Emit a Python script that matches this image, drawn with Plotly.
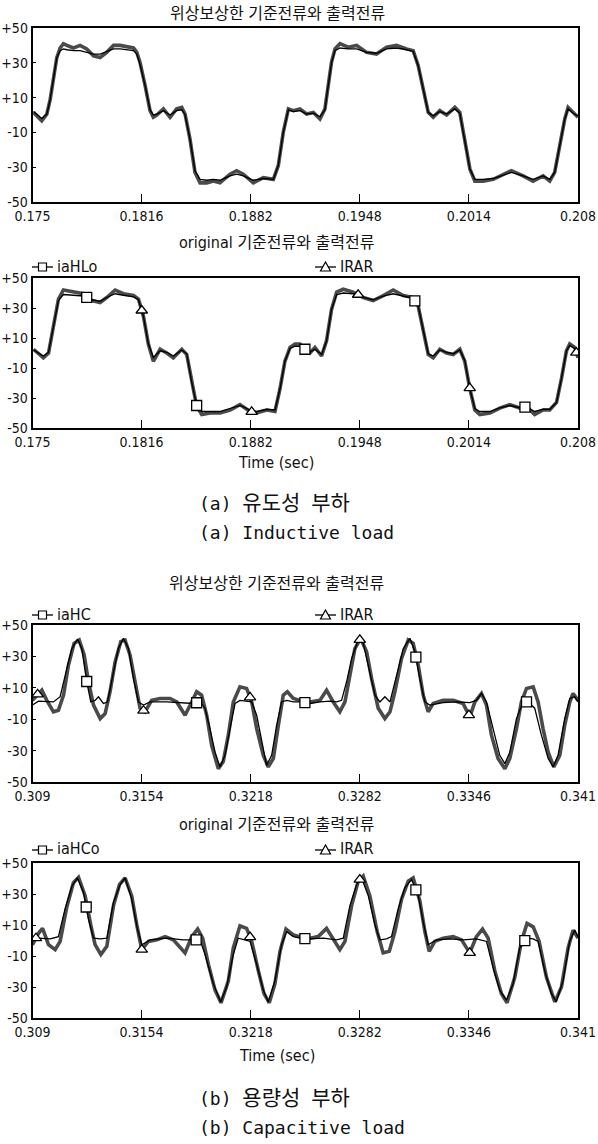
import numpy as np
import plotly.graph_objects as go

W, H = 598, 1144

# ---------------- data (times in ms from the start of each window) ----------------
BASE_A = 0.175   # inductive-load windows
BASE_B = 0.309   # capacitive-load windows

XTICKS_A = [0.175, 0.1816, 0.1882, 0.1948, 0.2014, 0.208]
XTICKS_B = [0.309, 0.3154, 0.3218, 0.3282, 0.3346, 0.341]
YTICKS = [50, 30, 10, -10, -30, -50]
YTICK_TEXT = ["+50", "+30", "+10", "-10", "-30", "-50"]

TITLE_COMP = "위상보상한 기준전류와 출력전류"
TITLE_ORIG = "original 기준전류와 출력전류"

# Panel 1: phase-compensated, inductive load
P1_T = [0.06, 0.56, 0.87, 1.07, 1.27, 1.47, 1.67, 1.87, 2.08, 2.48,
        2.88, 3.28, 3.69, 4.09, 4.49, 4.90, 5.30, 5.70, 6.11, 6.31,
        6.51, 6.81, 7.11, 7.31, 7.52, 7.92, 8.32, 8.72, 9.03, 9.23,
        9.53, 9.83, 10.14, 10.54, 10.94, 11.34, 11.95, 12.35, 12.75, 13.36,
        13.96, 14.57, 14.87, 15.17, 15.48, 15.78,
        16.18, 16.58, 16.99, 17.39, 17.69, 17.89, 18.09, 18.30, 18.60, 19.10,
        19.61, 20.21, 20.81, 21.42, 22.02, 22.63, 23.03, 23.33, 23.64, 23.94,
        24.24, 24.64, 25.05, 25.55, 25.85, 26.15, 26.46, 26.76, 27.26, 27.87,
        28.47, 28.97, 29.68, 30.28, 30.89, 31.29, 31.59, 31.90, 32.20, 32.40,
        32.70, 33.0]
P1_OUT = [1.5, -3.3, 0.6, 9, 21, 33, 38.5, 41, 40, 38.5,
          40, 38, 34, 33, 36, 40, 40, 39, 38.5, 36,
          30, 17, 2.5, -1.3, 0, 3.5, -1.3, 3.5, 4.4, 0.6,
          -14, -33, -39, -39, -38, -39, -34, -32, -34, -39,
          -36, -37, -29, -10, 3.5, 2.5,
          3.5, 0.6, 1.5, -2.3, 3.5, 17, 30.4, 38, 41, 39,
          40, 36, 35, 39, 40, 38, 37, 28.5, 15, 1.5,
          -1.3, 2.5, 0, 4.4, 1.5, -14, -31, -38, -38, -37,
          -34, -32, -35, -38, -35, -38, -33, -17.7, -2.3, 4.4,
          1.5, -1.3]
P1_REF = [2, -2, 0.5, 9, 21, 33, 37, 38, 37.5, 37,
          37, 36, 35, 35, 36.5, 38, 38, 37.5, 37, 35,
          29, 17, 3, 0, 0.5, 2.5, 0, 2.5, 3, 0,
          -14, -32, -37, -37.5, -37, -37.5, -35, -34, -35, -37.5,
          -36.5, -37, -29, -10, 3, 2,
          2.5, 0.5, 1, -1, 3, 17, 30, 37, 38.5, 38,
          38, 36, 35.5, 38, 38.5, 37.5, 36.5, 28.5, 15, 1.5,
          -0.5, 2, 0.5, 3.5, 1, -14, -31, -37, -37, -36.5,
          -34.5, -33, -35, -37, -35, -37, -33, -17.7, -2.3, 3.5,
          1, -0.5]

# Panel 2: original, inductive load
P2_T = [0.06, 0.66, 0.97, 1.27, 1.57, 1.87, 2.48, 3.08, 3.59, 4.09,
        4.49, 5.00, 5.50, 6.11, 6.41, 6.71, 7.01, 7.31, 7.72, 8.12,
        8.52, 9.03, 9.33, 9.63, 9.93, 10.24, 10.74, 11.34, 11.95, 12.55,
        13.16, 13.56, 14.17, 14.67, 14.97, 15.27, 15.58, 15.88,
        16.18, 16.78, 17.09, 17.49, 17.79, 18.09, 18.40, 18.80, 19.40, 20.01,
        20.61, 21.22, 21.82, 22.43, 23.03, 23.33, 23.64, 23.94, 24.24, 24.64,
        25.05, 25.45, 25.85, 26.15, 26.46, 26.76, 27.06, 27.67, 28.27, 28.87,
        29.48, 29.88, 30.38, 30.89, 31.29, 31.70, 32.00, 32.30, 32.50, 32.80,
        33.0]
P2_OUT = [2.5, -3.2, 0, 17.5, 36, 42, 40.6, 39.5, 35, 33.7,
          37, 42, 39.5, 38.3, 36, 24.5, 6, -5.5, 2.5, 0,
          -3.2, 2.5, -1, -19.4, -35.6, -41, -40, -40, -38, -34.4,
          -39, -40, -38, -39, -24, -5.5, 3.7, 6,
          6, 0, 3.7, -2, 8.3, 29, 40.6, 42.5, 40.6, 37,
          35, 38.3, 42, 38.3, 37, 31.4, 15.2, -1, -3.2, 2.5,
          0, -1, 2.5, -5.5, -24, -38, -41, -40, -36.7, -34.4,
          -36.7, -35.6, -41, -38, -38, -33, -17, 1.4, 6, 3.7,
          -3.2]
P2_REF = [2, -2, 0.5, 17, 35, 39, 38.5, 38, 35.5, 34.5,
          37, 39.5, 38.5, 37.5, 35.5, 24.5, 6, -3, 1.5, 0.5,
          -2, 2, -0.5, -19.4, -35, -39, -39, -39, -37, -35,
          -38, -39, -37.5, -38, -24, -5.5, 3, 4.5,
          4.5, 0.5, 2.5, -1, 8, 29, 39, 40, 39.5, 37,
          35.5, 38, 39.5, 38, 36.5, 31.4, 15.2, -0.5, -2, 2,
          0.5, -0.5, 2, -5, -24, -37, -39, -39, -36.5, -35,
          -36.5, -36, -39, -37.5, -37.5, -33, -17, 1.4, 5, 3,
          -2]
P2_SQ_T = [3.28, 9.93, 16.48, 23.13, 29.79]
P2_TRI_T = [6.61, 13.26, 19.70, 26.45, 32.9]

# Panel 3: phase-compensated, capacitive load
P3_A_T = [0, 0.35, 1.23, 1.62, 2.01, 2.31, 2.64, 2.89, 3.18, 3.42,
          3.67, 3.87, 4.16, 4.40, 4.75, 5.04, 5.33, 5.63, 5.92, 6.21,
          6.51, 6.90, 7.87, 8.85, 9.44, 9.83, 10.12, 10.41, 10.71, 11.0,
          11.29, 11.59, 11.88, 12.17, 12.56, 12.86, 13.15, 13.44, 13.73, 14.03,
          14.32, 14.61, 14.91, 15.30,
          15.69, 16.28, 16.86, 17.45, 17.84, 18.13, 18.43, 18.72, 19.11, 19.40,
          19.70, 20.09, 20.38, 20.67, 20.97, 21.36, 21.75, 22.14, 22.43, 22.72,
          23.02, 23.31, 24.09, 24.87, 25.65, 26.04, 26.34, 26.63, 27.02, 27.41,
          27.71, 28.0, 28.39, 28.78, 29.07, 29.46, 29.85, 30.25, 30.54, 30.83,
          31.22, 31.52, 31.81, 32.0]
P3_A = [-1, 1.5, 1, 4.3, 22, 35, 41, 35, 14, 1,
        2, 4.3, 0, 1, 20, 35, 41.5, 35, 16, 1,
        -1, 1, 1, 0.6, 0, 1, -3, -16, -31, -40.4,
        -33, -16, 0, 2, 1.5, 1, -7.5, -24.5, -39.4, -33,
        -14, 1, 2, 1,
        1, 0, 1, 1.5, 1, 2, 14, 28.7, 40.4, 38.3,
        24.5, 5.3, 1, 4.3, 1, 18, 35, 41.5, 33, 16,
        1, -1, 0.6, 1, 0.6, 2, 6.4, 1, -16, -33,
        -38.3, -31, -9.6, 1, 1, -3, -20, -35, -40.4, -33,
        -9.6, 3.2, 4.3, 1]
P3_B_T = [0, 0.35, 0.55, 0.84, 1.23, 1.52, 1.82, 2.11, 2.44, 2.74,
          3.03, 3.28, 3.58, 3.97, 4.26, 4.55, 4.85, 5.18, 5.43, 5.72,
          6.02, 6.31, 6.60, 6.99, 7.48, 8.07, 8.46, 8.95, 9.34, 9.63,
          9.92, 10.22, 10.51, 10.90, 11.19, 11.49, 11.78, 12.17, 12.56, 12.86,
          13.15, 13.54, 13.83, 14.13, 14.42, 14.71, 14.95, 15.30,
          15.69, 16.28, 16.86, 17.25, 17.64, 18.03, 18.33, 18.62, 18.91, 19.25,
          19.60, 19.89, 20.28, 20.67, 20.97, 21.26, 21.65, 22.04, 22.33, 22.63,
          22.92, 23.21, 23.50, 24.09, 24.68, 25.26, 25.65, 25.95, 26.34, 26.63,
          26.92, 27.31, 27.71, 28.0, 28.39, 28.68, 28.98, 29.37, 29.66, 29.95,
          30.25, 30.58, 30.93, 31.22, 31.52, 31.71, 32.0]
P3_B = [2, 6.4, 8.5, 2, -5.3, -4.3, 5.3, 24.5, 38.3, 40.4,
        31, 14, -1, -9.6, -6.4, 7.5, 26.6, 39.4, 40.4, 31,
        14, -3, -5.3, 2, 3.2, 3.2, 1, -7.5, 1, 7.5,
        5.3, -7.5, -26.6, -41.5, -37, -20, 1, 10.6, 9.6, 1,
        -16, -33, -40.4, -35, -14, 5.3, 7.5, 3.2,
        2, 1, 2, 8.5, 1, -5.3, 1, 18, 35, 41.5,
        33, 16, -3, -9.6, -5.3, 7.5, 28.7, 40.4, 38.3, 24.5,
        5.3, -5.3, 0, 2, 2, 0, -8.5, 1, 6.4, -1,
        -20, -35, -41.5, -35, -16, 1, 9.6, 10.6, 1, -16,
        -31, -40.4, -33, -14, 1, 6.4, 2]
P3_SQ_T = [3.18, 9.63, 15.98, 22.49, 28.98]
P3_TRI_T = [0.3, 6.51, 12.76, 19.2, 25.6]

# Panel 4: original, capacitive load
P4_A_T = [0, 0.35, 1.04, 1.52, 1.91, 2.31, 2.64, 2.99, 3.28, 3.58,
          3.97, 4.36, 4.75, 5.14, 5.43, 5.82, 6.15, 6.41, 6.90, 7.87,
          8.85, 9.44, 9.83, 10.12, 10.61, 11.04, 11.39, 11.78, 12.07, 12.46,
          12.76, 13.15, 13.54, 13.83, 14.22, 14.61, 14.91, 15.30,
          15.69, 16.28, 17.06, 17.84, 18.23, 18.62, 19.01, 19.30, 19.70, 20.09,
          20.38, 20.77, 21.06, 21.45, 21.84, 22.24, 22.63, 22.92, 23.21, 23.70,
          24.48, 25.26, 26.04, 26.63, 27.02, 27.41, 27.80, 28.19, 28.58, 28.98,
          29.37, 29.66, 30.05, 30.44, 30.73, 31.12, 31.51, 31.81, 32.0]
P4_A = [0.4, 1.5, 1, 2.5, 20.4, 35, 40.4, 31, 14, 1.5,
        1, 1.5, 24.6, 36, 40.4, 26.7, 7.8, -2.7, 0.4, 1.5,
        0.4, 0.4, 0.4, -9, -28, -39.6, -30, -9, 1.5, 0.4,
        -0.6, -15.4, -32, -39.6, -26, -2.7, 5.7, 2.5,
        1.5, 1, 1.5, 0.4, 1.5, 22.5, 36, 40.4, 28.8, 9.9,
        0.4, 1, 2.5, 20.4, 34, 39.4, 28.8, 12, -2.7, 0.4,
        1, 0.4, 1, -0.6, -17.5, -32, -38.5, -28, -4.8, 1.5,
        1, -0.6, -19.6, -34.3, -39.6, -26, -0.6, 6.7, 2.5]
P4_B_T = [0, 0.35, 0.59, 0.94, 1.33, 1.62, 2.01, 2.40, 2.70, 3.09,
          3.42, 3.67, 4.01, 4.36, 4.75, 5.10, 5.43, 5.82, 6.12, 6.41,
          6.80, 7.29, 7.78, 8.26, 8.95, 9.34, 9.69, 9.98, 10.32, 10.71,
          11.06, 11.49, 11.78, 12.17, 12.56, 12.86, 13.25, 13.58, 13.89, 14.22,
          14.52, 14.87, 15.30,
          15.69, 16.28, 16.76, 17.25, 17.64, 18.03, 18.33, 18.72, 19.11, 19.40,
          19.79, 20.22, 20.57, 20.93, 21.26, 21.65, 22.04, 22.33, 22.72, 23.02,
          23.27, 23.60, 24.09, 24.68, 25.17, 25.65, 26.04, 26.40, 26.73, 27.12,
          27.51, 27.84, 28.29, 28.68, 29.01, 29.37, 29.72, 30.15, 30.64, 31.03,
          31.42, 31.71, 32.0]
P4_B = [-2.7, 4.6, 7.8, -2.7, -5.9, -0.6, 21.5, 37.3, 40.8, 28.8,
        9.9, -2.7, -9, -3.8, 22.5, 36, 40.4, 28.8, 9.9, -5.9,
        -0.6, 0.4, 2.5, 0.4, -8, 2.5, 7.4, 1.5, -15.4, -32,
        -40.2, -26, -4.8, 9.5, 7.8, -0.6, -19.6, -34.3, -40.2, -28,
        -7, 7.4, 3.6,
        2.5, 1.5, 2.5, 7.8, 0.4, -5.9, -0.6, 22.5, 38.3, 41.5,
        28.8, 5.7, -8, -7, 5.7, 26.7, 38.3, 40.4, 25.7, 5.7,
        -7, -0.6, 1.5, 2.5, 0.4, -8, 2.5, 7.4, 1.5, -19.6,
        -34.3, -40.2, -23.8, -0.6, 11, 8.8, -0.6, -23.8, -39.6, -30,
        -4.8, 6.7, 1.5]
P4_SQ_T = [3.15, 9.6, 15.98, 22.49, 28.88]
P4_TRI_T = [0.2, 6.41, 12.76, 19.2, 25.65]

LEG_P2 = ("iaHLo", "IRAR")
LEG_P3 = ("iaHC", "IRAR")
LEG_P4 = ("iaHCo", "IRAR")

# ---------------- layout helpers ----------------
def px(x):
    return x / W

def py(y):
    return 1 - y / H

X_DOM = [px(32.5), px(578)]
PANELS = [(28, 202), (278, 428), (625, 782), (863, 1018)]

NARROW = "Liberation Sans Narrow, DejaVu Sans Condensed, Roboto Condensed, Liberation Sans, sans-serif"
TICK_FONT = dict(family=NARROW, size=14, color="#111")
TITLE_FONT = dict(family="Liberation Sans Narrow, DejaVu Sans Condensed, Noto Sans CJK KR, sans-serif",
                  size=16, color="#111")
CAP_FONT = dict(family="DejaVu Sans Mono, Noto Sans CJK KR, monospace", size=18, color="#111")

BAND = dict(color="#4a4a4a", width=3.6)
THIN = dict(color="#000000", width=1.3)

fig = go.Figure()


def to_sec(base, ms_list):
    return [base + m / 1000.0 for m in ms_list]


def add_line(k, base, t, v, style):
    fig.add_trace(go.Scatter(x=to_sec(base, t), y=v, mode="lines", line=style,
                             xaxis=f"x{k}", yaxis=f"y{k}", showlegend=False,
                             hoverinfo="skip"))


def add_markers(k, base, t, v, mt, symbol):
    my = np.interp(mt, t, v)
    fig.add_trace(go.Scatter(x=to_sec(base, mt), y=my, mode="markers",
                             marker=dict(symbol=symbol, size=10, color="white",
                                         line=dict(color="black", width=1.3)),
                             xaxis=f"x{k}", yaxis=f"y{k}", showlegend=False,
                             hoverinfo="skip"))


# panel 1
add_line(1, BASE_A, P1_T, P1_OUT, BAND)
add_line(1, BASE_A, P1_T, P1_REF, THIN)
# panel 2
add_line(2, BASE_A, P2_T, P2_OUT, BAND)
add_line(2, BASE_A, P2_T, P2_REF, THIN)
add_markers(2, BASE_A, P2_T, P2_REF, P2_SQ_T, "square")
add_markers(2, BASE_A, P2_T, P2_OUT, P2_TRI_T, "triangle-up")
# panel 3
add_line(3, BASE_B, P3_B_T, P3_B, BAND)
add_line(3, BASE_B, P3_A_T, P3_A, THIN)
add_markers(3, BASE_B, P3_A_T, P3_A, P3_SQ_T, "square")
add_markers(3, BASE_B, P3_B_T, P3_B, P3_TRI_T, "triangle-up")
# panel 4
add_line(4, BASE_B, P4_B_T, P4_B, BAND)
add_line(4, BASE_B, P4_A_T, P4_A, THIN)
add_markers(4, BASE_B, P4_A_T, P4_A, P4_SQ_T, "square")
add_markers(4, BASE_B, P4_B_T, P4_B, P4_TRI_T, "triangle-up")

layout = dict(width=W, height=H, autosize=False,
              margin=dict(l=0, r=0, t=0, b=0, pad=0, autoexpand=False),
              paper_bgcolor="white", plot_bgcolor="white", showlegend=False)

for i, (top, bot) in enumerate(PANELS, start=1):
    xt = XTICKS_A if i <= 2 else XTICKS_B
    layout[f"xaxis{i}"] = dict(domain=X_DOM, anchor=f"y{i}", range=[xt[0], xt[-1]],
                               tickvals=xt, ticktext=[str(v) for v in xt],
                               ticks="inside", ticklen=8, tickwidth=1.3, tickcolor="black",
                               showline=True, linecolor="black", linewidth=1.6, mirror=True,
                               showgrid=False, zeroline=False, tickfont=TICK_FONT,
                               automargin=False, fixedrange=True)
    layout[f"yaxis{i}"] = dict(domain=[py(bot), py(top)], anchor=f"x{i}", range=[-50, 50],
                               tickvals=YTICKS, ticktext=YTICK_TEXT,
                               ticks="inside", ticklen=4, tickwidth=1.2, tickcolor="black",
                               showline=True, linecolor="black", linewidth=1.6, mirror=True,
                               showgrid=False, zeroline=False, tickfont=TICK_FONT,
                               automargin=False, fixedrange=True)

annotations = []
shapes = []


def text(x, y, s, font, anchor="center"):
    annotations.append(dict(x=px(x), y=py(y), xref="paper", yref="paper", text=s,
                            showarrow=False, font=font, xanchor=anchor, yanchor="middle"))


# panel titles
text(277, 14, TITLE_COMP, TITLE_FONT)
text(276, 243, TITLE_ORIG, TITLE_FONT)
text(276, 583, TITLE_COMP, TITLE_FONT)
text(276, 824, TITLE_ORIG, TITLE_FONT)

# axis titles
text(276, 462, "Time (sec)", TITLE_FONT)
text(277, 1055, "Time (sec)", TITLE_FONT)

# captions
KO = '<span style="font-size:21px">{}</span>'
text(197, 503, "(a) " + KO.format("유도성") + " " + KO.format("부하"), CAP_FONT, "left")
text(197, 532, "(a) Inductive load", CAP_FONT, "left")
text(197, 1098, "(b) " + KO.format("용량성") + " " + KO.format("부하"), CAP_FONT, "left")
text(197, 1127, "(b) Capacitive load", CAP_FONT, "left")


def legend_item(x0, y, label, symbol):
    shapes.append(dict(type="line", xref="paper", yref="paper",
                       x0=px(x0), x1=px(x0 + 21), y0=py(y), y1=py(y),
                       line=dict(color="black", width=1.3)))
    cx = x0 + 10.5
    if symbol == "square":
        shapes.append(dict(type="rect", xref="paper", yref="paper",
                           x0=px(cx - 4), x1=px(cx + 4), y0=py(y + 4), y1=py(y - 4),
                           line=dict(color="black", width=1.2), fillcolor="white"))
    else:
        path = "M {} {} L {} {} L {} {} Z".format(px(cx - 5), py(y + 4), px(cx + 5), py(y + 4),
                                                  px(cx), py(y - 5))
        shapes.append(dict(type="path", xref="paper", yref="paper", path=path,
                           line=dict(color="black", width=1.2), fillcolor="white"))
    text(x0 + 23, y - 1, label, TITLE_FONT, "left")


for (lab_sq, lab_tri), y in [(LEG_P2, 267), (LEG_P3, 615), (LEG_P4, 850)]:
    legend_item(32, y, lab_sq, "square")
    legend_item(315, y, lab_tri, "triangle")

layout["annotations"] = annotations
layout["shapes"] = shapes
fig.update_layout(**layout)

# remove the browser's default page margin so the 598x1144 figure fills the window exactly
POST = ("document.documentElement.style.margin='0';document.body.style.margin='0';"
        "document.body.style.padding='0';document.documentElement.style.overflow='hidden';"
        "document.body.style.overflow='hidden';")
fig.write_html("out.html", post_script=POST, config={"displayModeBar": False})
